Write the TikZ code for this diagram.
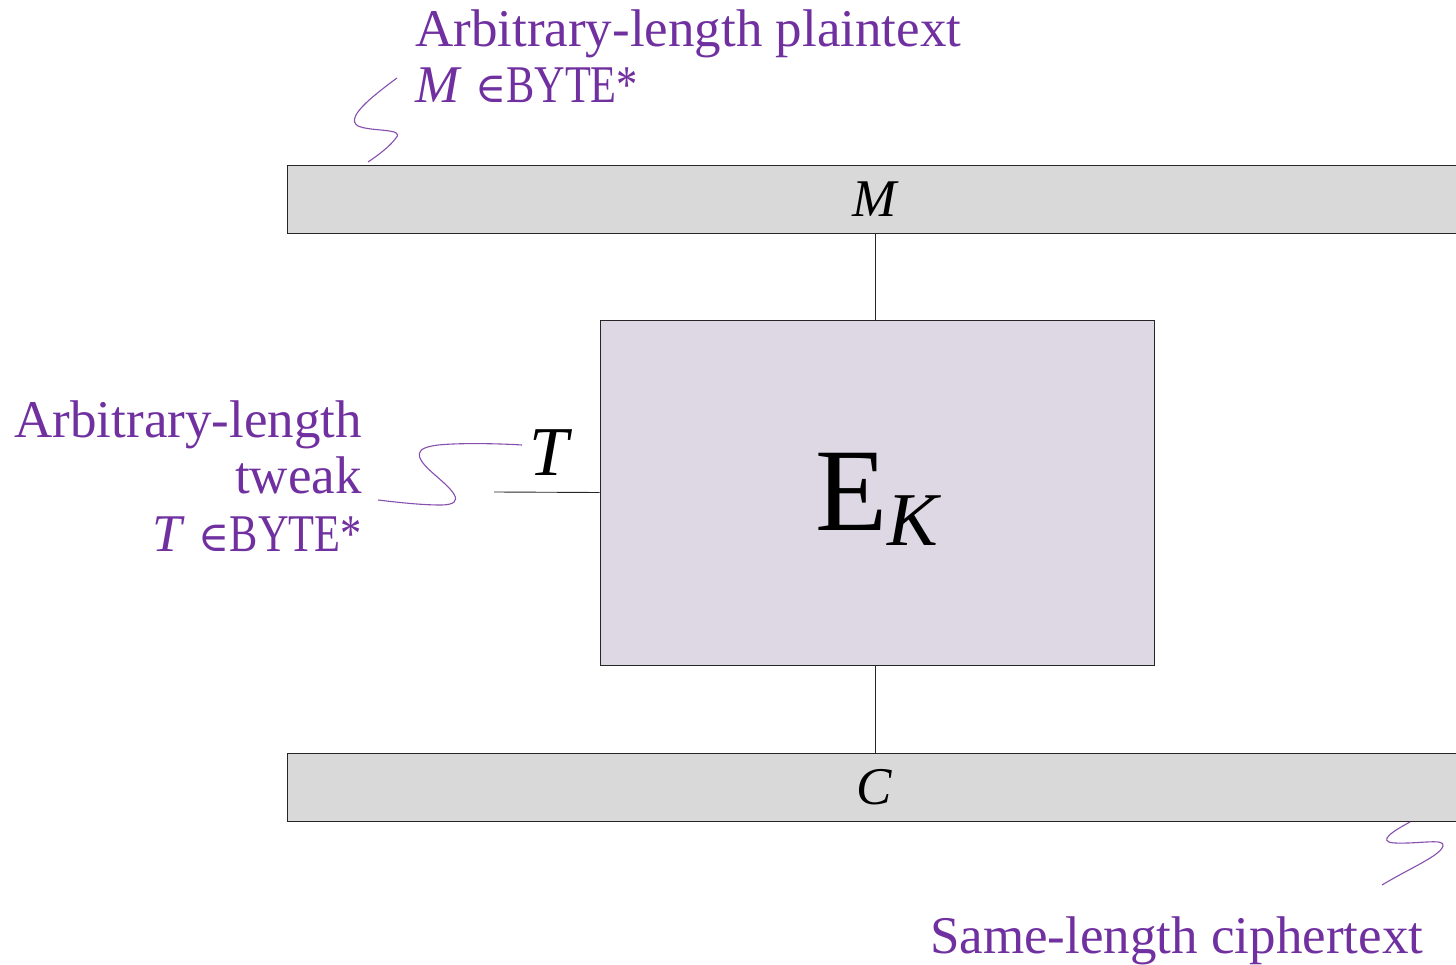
\documentclass[tikz,border=0pt]{standalone}
\usepackage{fontspec}
\setmainfont{Liberation Serif}
\newfontfamily\symfnt{DejaVu Serif}
\definecolor{lblpurple}{HTML}{7030A0}
\definecolor{bargray}{HTML}{D9D9D9}
\definecolor{boxlav}{HTML}{DED8E5}
\tikzset{
  bar/.style={draw=black!85, line width=0.9pt, fill=bargray, minimum width=1175pt, minimum height=68pt, inner sep=0pt,
    font=\fontsize{53}{53}\selectfont\itshape},
  cipher/.style={draw=black!85, line width=0.9pt, fill=boxlav, minimum width=554pt, minimum height=345pt, inner sep=0pt},
  wire/.style={draw=black!85, line width=0.9pt},
  callout/.style={draw=lblpurple!85, line width=1.1pt},
  lbl/.style={text=lblpurple, inner sep=0pt, font=\fontsize{53}{53}\selectfont},
}
\newcommand{\smallin}{{\symfnt\fontsize{42}{42}\selectfont ∈}}
\newcommand{\bytestar}{\scalebox{0.8}[1]{BYTE*}}
\begin{document}
\begin{tikzpicture}[x=1pt,y=-1pt]
\useasboundingbox (0,0) rectangle (1456,965);
\clip (0,0) rectangle (1456,965);
% bars
\node[bar] (mbar) at (874.5,199) {M};
\node[bar] (cbar) at (874.5,787) {C};
% cipher box
\node[cipher] (box) at (877,492.5) {};
\node[anchor=base, inner sep=0pt] (ek) at (877,530) {{\fontsize{118}{118}\selectfont E}\raisebox{-15pt}{\fontsize{76}{76}\selectfont\itshape K}};
% connectors
\draw[wire] (box.north -| 875,0) -- (875,0 |- mbar.south);
\draw[wire] (box.south -| 875,0) -- (875,0 |- cbar.north);
\coordinate (tin) at (494,492);
\draw[wire] (tin) -- (box.west);
\node[anchor=base, inner sep=0pt, font=\fontsize{70}{70}\selectfont\itshape] (tlab) at (549,475) {T};
% labels
\node[lbl, anchor=base west] (pt1) at (415,47) {Arbitrary-length plaintext};
\node[lbl, anchor=base west] (pt2) at (415,103) {\textit{M} \smallin\bytestar};
\node[lbl, anchor=base east] (tw1) at (362,437) {Arbitrary-length};
\node[lbl, anchor=base east] (tw2) at (362,493) {tweak};
\node[lbl, anchor=base east] (tw3) at (362,551) {\textit{T} \smallin\bytestar};
\node[lbl, anchor=base west] (ct) at (930,953) {Same-length ciphertext};
% callout curves
\draw[callout] (397,78) .. controls (370,98) and (345,118) .. (358,126)
  .. controls (372,132) and (405,128) .. (396,138)
  .. controls (390,146) and (380,154) .. (368,162);
\draw[callout] (522,445) .. controls (490,443) and (445,443) .. (432,446)
  .. controls (410,450) and (420,462) .. (435,475)
  .. controls (450,488) and (470,505) .. (440,505)
  .. controls (420,505) and (395,502) .. (378,500);
\draw[callout] (1410,822) .. controls (1395,830) and (1375,842) .. (1395,843)
  .. controls (1420,844) and (1445,838) .. (1443,846)
  .. controls (1440,856) and (1410,868) .. (1382,885);
\end{tikzpicture}
\end{document}
